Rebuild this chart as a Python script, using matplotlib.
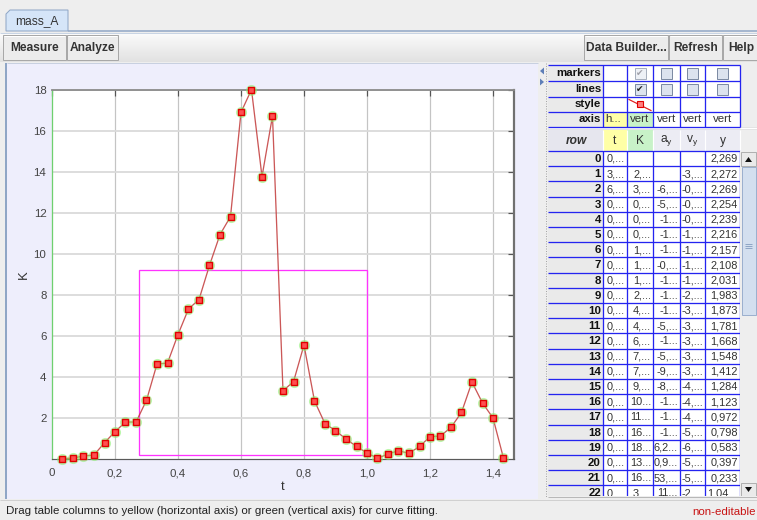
import matplotlib
matplotlib.use("Agg")
import numpy as np
import matplotlib.pyplot as plt
from matplotlib.patches import Rectangle, Polygon

plt.rcParams['font.family'] = ['Liberation Sans', 'DejaVu Sans']

# ---------------- data ----------------
tab_name = "mass_A"
left_buttons = ["Measure", "Analyze"]
right_buttons = ["Data Builder...", "Refresh", "Help"]

t_values = [0.0333, 0.0667, 0.1, 0.1333, 0.1667, 0.2, 0.2333, 0.2667, 0.3, 0.3333,
            0.3667, 0.4, 0.4333, 0.4667, 0.5, 0.5333, 0.5667, 0.6, 0.6333, 0.6667,
            0.7, 0.7333, 0.7667, 0.8, 0.8333, 0.8667, 0.9, 0.9333, 0.9667, 1.0,
            1.0333, 1.0667, 1.1, 1.1333, 1.1667, 1.2, 1.2333, 1.2667, 1.3, 1.3333,
            1.3667, 1.4, 1.4333]
K_values = [0.0025, 0.03, 0.13, 0.18, 0.78, 1.32, 1.79, 1.79, 2.85, 4.62,
            4.67, 6.06, 7.31, 7.77, 9.44, 10.94, 11.82, 16.91, 18.02, 13.77,
            16.73, 3.32, 3.76, 5.55, 2.82, 1.71, 1.37, 0.96, 0.60, 0.28,
            0.02, 0.23, 0.39, 0.26, 0.60, 1.07, 1.11, 1.53, 2.26, 3.74,
            2.72, 1.99, 0.03]

x_ticks = [0, 0.2, 0.4, 0.6, 0.8, 1.0, 1.2, 1.4]
y_ticks = [2, 4, 6, 8, 10, 12, 14, 16, 18]
x_label = "t"
y_label = "K"
selection_t = [0.277, 1.0]
selection_K = [0.2, 9.2]

prop_rows = ["markers", "lines", "style", "axis"]
axis_row = ["h...", "vert", "vert", "vert", "vert"]
col_headers = ["t", "K", r"$\mathregular{a_y}$", r"$\mathregular{v_y}$", "y"]
row_labels = [str(i) for i in range(23)]
t_col = ["0,...", "3,...", "6,...", "0,...", "0,...", "0,...", "0,...", "0,...", "0,...",
         "0,...", "0,...", "0,...", "0,...", "0,...", "0,...", "0,...", "0,...", "0,...",
         "0,...", "0,...", "0,...", "0,...", "0,..."]
K_col = ["", "2,...", "3,...", "0,...", "0,...", "0,...", "1,...", "1,...", "1,...",
         "2,...", "4,...", "4,...", "6,...", "7,...", "7,...", "9,...", "10...", "11...",
         "16...", "18...", "13...", "16...", "3,..."]
ay_col = ["", "", "-6,...", "-5,...", "-1...", "-1...", "-1...", "-0,...", "-1...",
          "-1...", "-1...", "-5,...", "-1...", "-5,...", "-9,...", "-8,...", "-1...", "-1...",
          "-1...", "6,2...", "0,9...", "53,...", "11..."]
vy_col = ["", "-3,...", "-0,...", "-0,...", "-0,...", "-1,...", "-1,...", "-1,...", "-1,...",
          "-2,...", "-3,...", "-3,...", "-3,...", "-3,...", "-3,...", "-4,...", "-4,...", "-4,...",
          "-5,...", "-6,...", "-5,...", "-5,...", "-2,..."]
y_col = ["2,269", "2,272", "2,269", "2,254", "2,239", "2,216", "2,157", "2,108", "2,031",
         "1,983", "1,873", "1,781", "1,668", "1,548", "1,412", "1,284", "1,123", "0,972",
         "0,798", "0,583", "0,397", "0,233", "1,04..."]
status_text = "Drag table columns to yellow (horizontal axis) or green (vertical axis) for curve fitting."
status_right = "non-editable"

# ---------------- figure / UI canvas ----------------
W, H = 757, 520
PT = 0.72  # points per pixel at dpi 100
fig = plt.figure(figsize=(W / 100, H / 100), dpi=100)
fig.patch.set_facecolor('#EEEEEE')
ui = fig.add_axes([0, 0, 1, 1])
ui.set_zorder(0)
ui.axis('off')

TXT = '#333333'


def box(x0, y0, x1, y1, fc, ec='none', lw=1, z=1):
    ui.add_patch(Rectangle((x0, y0), x1 - x0, y1 - y0, facecolor=fc, edgecolor=ec,
                           linewidth=lw * PT, zorder=z))


def hline(y, x0, x1, c, lw=1, z=2, ls='-'):
    ui.plot([x0, x1], [y, y], color=c, lw=lw * PT, zorder=z, ls=ls, solid_capstyle='butt')


def vline(x, y0, y1, c, lw=1, z=2, ls='-'):
    ui.plot([x, x], [y0, y1], color=c, lw=lw * PT, zorder=z, ls=ls, solid_capstyle='butt')


def txt(x, y, s, px=11, ha='left', weight='normal', color=TXT, style='normal', z=6, **kw):
    ui.text(x, y, s, fontsize=px * PT, ha=ha, va='center', fontweight=weight,
            color=color, fontstyle=style, zorder=z, **kw)


# toolbar gradient
grad = np.linspace(0.985, 0.885, 30)[:, None, None] * np.ones((30, 2, 3))
ui.imshow(grad, extent=(0, W, 62, 33), aspect='auto', zorder=1, interpolation='bilinear')

# tab
ui.add_patch(Polygon([(6, 31), (6, 14), (10, 10), (68, 10), (68, 31)], closed=True,
                     facecolor='#D5E5F8', edgecolor='#8FA6C6', lw=1 * PT, zorder=3))
txt(37, 21, tab_name, px=12, ha='center')
hline(30.5, 68, W, '#8FA6C6', 1.5, z=3)
hline(32.5, 0, W, '#C8D4E4', 1, z=3)

# buttons
btn_left = [(3, 66), (67, 118)]
btn_right = [(584, 668), (669, 722), (723, 760)]
for (x0, x1), lab in zip(btn_left + btn_right, left_buttons + right_buttons):
    box(x0, 35, x1, 60, '#ECECEC', '#A8A8A8', 1, z=3)
    hline(36, x0 + 1, x1 - 1, 'white', 1, z=4)
    txt((x0 + x1) / 2, 48, lab, px=12, ha='center', weight='bold')

# main plot panel
box(7, 63, 538, 499, '#EEEEFC', z=1)
vline(5.5, 63, 500, '#8FA6C6', 2, z=2)
hline(63, 7, 538, '#C8D0E0', 1, z=2)

# splitter
box(538, 63, 548, 499, '#EEEEEE', z=1)
vline(545.5, 63, 497, '#A8A8A8', 1, z=2, ls=(0, (1, 1.5)))
ui.add_patch(Polygon([(540, 71), (544, 67.5), (544, 74.5)], closed=True, fc='#5E7FB8', ec='none', zorder=3))
ui.add_patch(Polygon([(544, 82), (540, 78.5), (540, 85.5)], closed=True, fc='#5E7FB8', ec='none', zorder=3))

# ---------------- property table ----------------
BLUE = '#2424F0'
col_edges = [548, 603, 627, 653, 680, 705, 740]
top_edges = [65, 81.3, 97, 111.5, 126.5]
box(548, 65, 603, 126.5, '#EAEAEA', z=2)
box(603, 65, 740, 126.5, 'white', z=2)
box(603, 111.5, 627, 126.5, '#FFFFA6', z=2)
box(627, 111.5, 653, 126.5, '#C8F2C8', z=2)
for y in top_edges:
    hline(y, 548, 740, BLUE, 1.3, z=4)
for x in col_edges[1:]:
    vline(x, 65, 126.5, BLUE, 1.3, z=4)
for i, lab in enumerate(prop_rows):
    yc = (top_edges[i] + top_edges[i + 1]) / 2
    txt(601, yc, lab, px=11.5, ha='right', weight='bold', color='#111111')

# checkboxes (markers / lines rows)
for r in range(2):
    yc = (top_edges[r] + top_edges[r + 1]) / 2
    for c in range(1, 5):
        xc = (col_edges[c + 1] + col_edges[c + 2]) / 2
        disabled = (r == 0 and c == 1)
        box(xc - 5.5, yc - 5.5, xc + 5.5, yc + 5.5,
            '#EEF1F6' if disabled else '#DCE3EE', '#A8B0BE' if disabled else '#7D8BA3', 1, z=5)
        if c == 1:
            txt(xc, yc + 0.5, '\u2714', px=9, ha='center',
                color='#A0A0A8' if disabled else '#222222', family=['DejaVu Sans'])

# style row line sample
sy0, sy1 = top_edges[2], top_edges[3]
ui.plot([629, 651], [sy0 + 2.5, sy1 - 1], color='#E02020', lw=1.2 * PT, zorder=5)
ui.plot([640], [(sy0 + sy1) / 2], marker='s', ms=5, mfc='#FF8080', mec='#E00000', mew=0.8, zorder=6)

# axis row texts
ya = (top_edges[3] + top_edges[4]) / 2
for c, s in enumerate(axis_row):
    x0, x1 = col_edges[c + 1], col_edges[c + 2]
    if c == 0:
        txt(x0 + 2, ya, s, px=11.5, ha='left')
    else:
        txt((x0 + x1) / 2, ya, s, px=11.5, ha='center')

# separator
box(548, 126.5, 757, 130, '#E4E4E4', z=2)
hline(127.5, 548, 757, '#FFFFFF', 1, z=3)

# ---------------- data table ----------------
HDR0, HDR1 = 130, 151
ROWH = 15.2
TBOT = 496
hdr_fc = ['#E6E6EE', '#FFFFA6', '#C8F2C8', '#ECECF4', '#ECECF4', '#ECECF4']
for c in range(6):
    box(col_edges[c], HDR0, col_edges[c + 1], HDR1, hdr_fc[c], z=2)
    vline(col_edges[c + 1], HDR0, HDR1, '#FFFFFF', 1.2, z=3)
txt(576, 141, 'row', px=12, ha='center', weight='bold', style='italic')
for c, s in enumerate(col_headers):
    txt((col_edges[c + 1] + col_edges[c + 2]) / 2, 141, s, px=12, ha='center')

box(548, HDR1, 603, TBOT, '#EAEAEA', z=2)
box(603, HDR1, 740, TBOT, 'white', z=2)
cols = [t_col, K_col, ay_col, vy_col, y_col]
for i, lab in enumerate(row_labels):
    y0 = HDR1 + i * ROWH
    yc = y0 + ROWH / 2 + 0.3
    if y0 < TBOT:
        hline(y0, 548, 740, BLUE, 1.3, z=4)
    txt(601, yc, lab, px=11.5, ha='right', weight='bold', color='#111111', z=3)
    for c, colvals in enumerate(cols):
        if colvals[i]:
            txt(col_edges[c + 2] - 2, yc, colvals[i], px=11, ha='right', z=3)
for x in col_edges[1:]:
    vline(x, HDR1, TBOT, BLUE, 1.3, z=4)

# scrollbar
box(740, HDR1, 757, TBOT, '#EEEEEE', z=4)
box(741, 152, 756, 166, '#EAEAEA', '#B0B0B0', 1, z=5)
ui.add_patch(Polygon([(745, 162), (752, 162), (748.5, 157)], closed=True, fc='#111111', ec='none', zorder=6))
box(741, 483, 756, 496, '#EAEAEA', '#B0B0B0', 1, z=5)
ui.add_patch(Polygon([(745, 487), (752, 487), (748.5, 492)], closed=True, fc='#111111', ec='none', zorder=6))
box(741.5, 167, 755.5, 315, '#D3DFEF', '#9CB0CE', 1, z=5)
for dy in (-2, 0, 2):
    hline(246 + dy, 745, 752, '#8FA6C6', 1, z=6)

# status bar (drawn on top to crop the table)
box(548, TBOT, 757, 499, '#EEEEEE', z=7)
hline(496.5, 548, 757, '#B8B8B8', 1, z=8)
box(0, 499, W, H, '#EEEEEE', z=7)
hline(499.5, 0, W, '#D0D0D0', 1, z=8)
txt(6, 511.5, status_text, px=11.5, ha='left', color='#222222', z=9)
txt(756, 512, status_right, px=11.5, ha='right', color='#C81414', z=9)

ui.set_xlim(0, W)
ui.set_ylim(H, 0)

# ---------------- the chart ----------------
ax = fig.add_axes([52 / W, 1 - 458.7 / H, (514 - 52) / W, (458.7 - 90) / H])
ax.set_zorder(2)
ax.set_facecolor('white')
ax.set_xlim(0, 1.4667)
ax.set_ylim(0, 18)

ax.set_xticks(x_ticks)
ax.set_yticks(y_ticks)
ax.set_xticklabels(["0" if v == 0 else f"{v:.1f}".replace('.', ',') for v in x_ticks])
ax.set_yticklabels([str(v) for v in y_ticks])
ax.tick_params(axis='both', which='both', labelsize=11.5 * PT, colors='#444444',
               direction='in', length=0)
ax.tick_params(axis='x', pad=7)
ax.tick_params(axis='y', pad=4)
ax.tick_params(axis='x', top=True, length=4, width=1.2 * PT, color='#555555')
ax.tick_params(axis='y', right=True, length=4, width=1.2 * PT, color='#555555')
ax.tick_params(axis='x', bottom=False)
ax.tick_params(axis='y', left=False)

for v in x_ticks[1:]:
    ax.axvline(v, color='#C4C4C4', lw=1.2 * PT, zorder=0.5)
for v in y_ticks:
    ax.axhline(v, color='#DADADA', lw=1.8 * PT, zorder=0.5)

ax.spines['left'].set_color('#6FD06F')
ax.spines['left'].set_linewidth(1.3 * PT)
ax.spines['bottom'].set_color('#5A5A5A')
ax.spines['bottom'].set_linewidth(1.2 * PT)
ax.spines['top'].set_color('#8A8A8A')
ax.spines['top'].set_linewidth(1.8 * PT)
ax.spines['right'].set_color('#707070')
ax.spines['right'].set_linewidth(2.2 * PT)

ax.set_xlabel(x_label, fontsize=13 * PT, color='#333333', labelpad=2)
ax.set_ylabel(y_label, fontsize=13 * PT, color='#333333', labelpad=3)

# selection rectangle
ax.add_patch(Rectangle((selection_t[0], selection_K[0]), selection_t[1] - selection_t[0],
                       selection_K[1] - selection_K[0], fill=False, edgecolor='#FF33FF',
                       lw=1.3 * PT, zorder=2))

# data: line, green halo, red square markers
ax.plot(t_values, K_values, color='#C23A3A', lw=1.3 * PT, alpha=0.85, zorder=3, clip_on=False)
ax.plot(t_values, K_values, ls='none', marker='o', ms=8, mfc='#86F06A', mec='none',
        alpha=0.55, zorder=4, clip_on=False)
ax.plot(t_values, K_values, ls='none', marker='s', ms=5, mfc='#FF5050', mec='#E00000',
        mew=1.0, zorder=5, clip_on=False)

fig.savefig('out.png', dpi=100, facecolor=fig.get_facecolor())
